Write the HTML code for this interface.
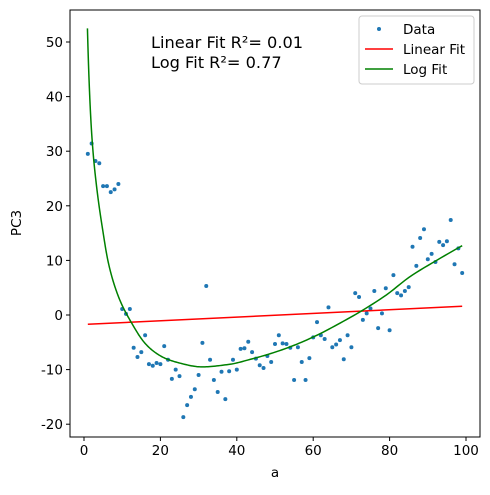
<!DOCTYPE html>
<html><head><meta charset="utf-8"><style>
body{margin:0;background:#fff}
svg text{font-family:"DejaVu Sans","Liberation Sans",sans-serif}
</style></head><body>
<svg id="chart" width="490" height="490" xmlns="http://www.w3.org/2000/svg">
<rect width="490" height="490" fill="#fff"/>
<g id="plot"></g>
<rect x="70" y="10" width="410" height="427" fill="none" stroke="#000" stroke-width="1"/>
<g id="axes"></g>
<text x="151" y="48" font-size="16.2">Linear Fit R²= 0.01</text>
<text x="151" y="68" font-size="16.2">Log Fit R²= 0.77</text>
<text x="275" y="477" font-size="13.5" text-anchor="middle">a</text>
<text x="21" y="223" font-size="13.5" text-anchor="middle" transform="rotate(-90 21 223)">PC3</text>
<g>
<rect x="359" y="16" width="115" height="68" rx="3" fill="#fff" fill-opacity="0.8" stroke="#ccc"/>
<circle cx="379" cy="29" r="2" fill="#1f77b4"/>
<text x="403" y="34" font-size="13.5">Data</text>
<line x1="365" y1="49" x2="393" y2="49" stroke="red" stroke-width="1.5"/>
<text x="403" y="54" font-size="13.5">Linear Fit</text>
<line x1="365" y1="69" x2="393" y2="69" stroke="green" stroke-width="1.5"/>
<text x="403" y="74" font-size="13.5">Log Fit</text>
</g>
</svg>
<script>
const pc3Values = [29.5,31.4,28.2,27.8,23.6,23.6,22.5,23,24,1.1,0.2,1.1,-6,-7.7,-6.8,-3.7,-9,-9.3,-8.8,-9,-5.7,-8.2,-11.7,-10,-11.2,-18.7,-16.5,-15,-13.6,-11,-5.1,5.3,-8.2,-11.9,-14.1,-10.4,-15.4,-10.3,-8.2,-10,-6.2,-6.1,-4.9,-6.8,-8,-9.2,-9.7,-7.5,-8.6,-5.3,-3.7,-5.2,-5.3,-6,-11.9,-5.9,-8.6,-11.9,-7.9,-4.1,-1.3,-3.7,-4.4,1.4,-5.9,-5.4,-4.6,-8.1,-3.7,-5.9,4,3.3,-0.9,0.3,1.2,4.4,-2.4,0.3,4.9,-2.8,7.3,4,3.6,4.4,5.1,12.5,9,14.1,15.7,10.2,11.2,9.7,13.4,12.8,13.5,17.4,9.3,12.2,7.7];
const linIntercept = -1.73;
const linSlope = 0.0337;
const logFitX = [0.9,1.8,2.4,3.3,4.8,6.4,9,12.5,16,20.3,25.6,30.8,38.4,42.6,48.7,54.8,61,67,73,79.2,85.3,92.3,99];
const logFitY = [52.5,35.7,29.6,23.5,16,9.5,3.4,-1.5,-5.2,-7.6,-8.9,-9.5,-9.0,-8.3,-7.1,-5.6,-3.7,-1.5,0.9,3.7,7,10,12.7];
const xTicks = [0,20,40,60,80,100];
const yTicks = [-20,-10,0,10,20,30,40,50];

const NS="http://www.w3.org/2000/svg";
const sx = v => 84 + v*3.82;
const sy = v => 315 - v*5.46;
const plot=document.getElementById('plot'), axes=document.getElementById('axes');
function mk(tag,attrs,parent){const e=document.createElementNS(NS,tag);for(const k in attrs)e.setAttribute(k,attrs[k]);parent.appendChild(e);return e;}

xTicks.forEach(t=>{
  const l=mk('line',{x1:sx(t),x2:sx(t),y1:437,y2:441,stroke:'#000'},axes);
  
  
  const tx=mk('text',{x:sx(t),y:455,'font-size':13.5,'text-anchor':'middle'},axes);
  tx.textContent=t;
  
  
});
yTicks.forEach(t=>{
  const l=mk('line',{x1:66,x2:70,y1:sy(t),y2:sy(t),stroke:'#000'},axes);
  
  
  const tx=mk('text',{x:63,y:sy(t)+5,'font-size':13.5,'text-anchor':'end'},axes);
  tx.textContent=t;
  
  
});

pc3Values.forEach((v,i)=>{
  const c=mk('circle',{cx:sx(i+1),cy:sy(v),r:2,fill:'#1f77b4'},plot);
  
  
});

const lin=mk('line',{x1:sx(1),y1:sy(linIntercept+linSlope*1),x2:sx(99),y2:sy(linIntercept+linSlope*99),stroke:'red','stroke-width':1.5},plot);



const L = logFitX.map(Math.log);
function interp(x){
  const t=Math.log(x);
  let i=0; while(i<L.length-2 && t>L[i+1]) i++;
  const n=L.length;
  const i0=Math.max(i-1,0), i3=Math.min(i+2,n-1);
  const h=L[i+1]-L[i];
  const m1=(logFitY[i+1]-logFitY[i0])/(L[i+1]-L[i0]);
  const m2=(logFitY[i3]-logFitY[i])/(L[i3]-L[i]);
  const s=(t-L[i])/h, s2=s*s, s3=s2*s;
  return (2*s3-3*s2+1)*logFitY[i]+(s3-2*s2+s)*h*m1+(-2*s3+3*s2)*logFitY[i+1]+(s3-s2)*h*m2;
}
let pts=[];
const x0=logFitX[0], x1=logFitX[logFitX.length-1];
for(let k=0;k<=400;k++){
  const x=x0*Math.pow(x1/x0,k/400);
  pts.push(sx(x).toFixed(2)+','+sy(interp(x)).toFixed(2));
}
const lg=mk('polyline',{points:pts.join(' '),fill:'none',stroke:'green','stroke-width':1.5},plot);


</script>
</body></html>
